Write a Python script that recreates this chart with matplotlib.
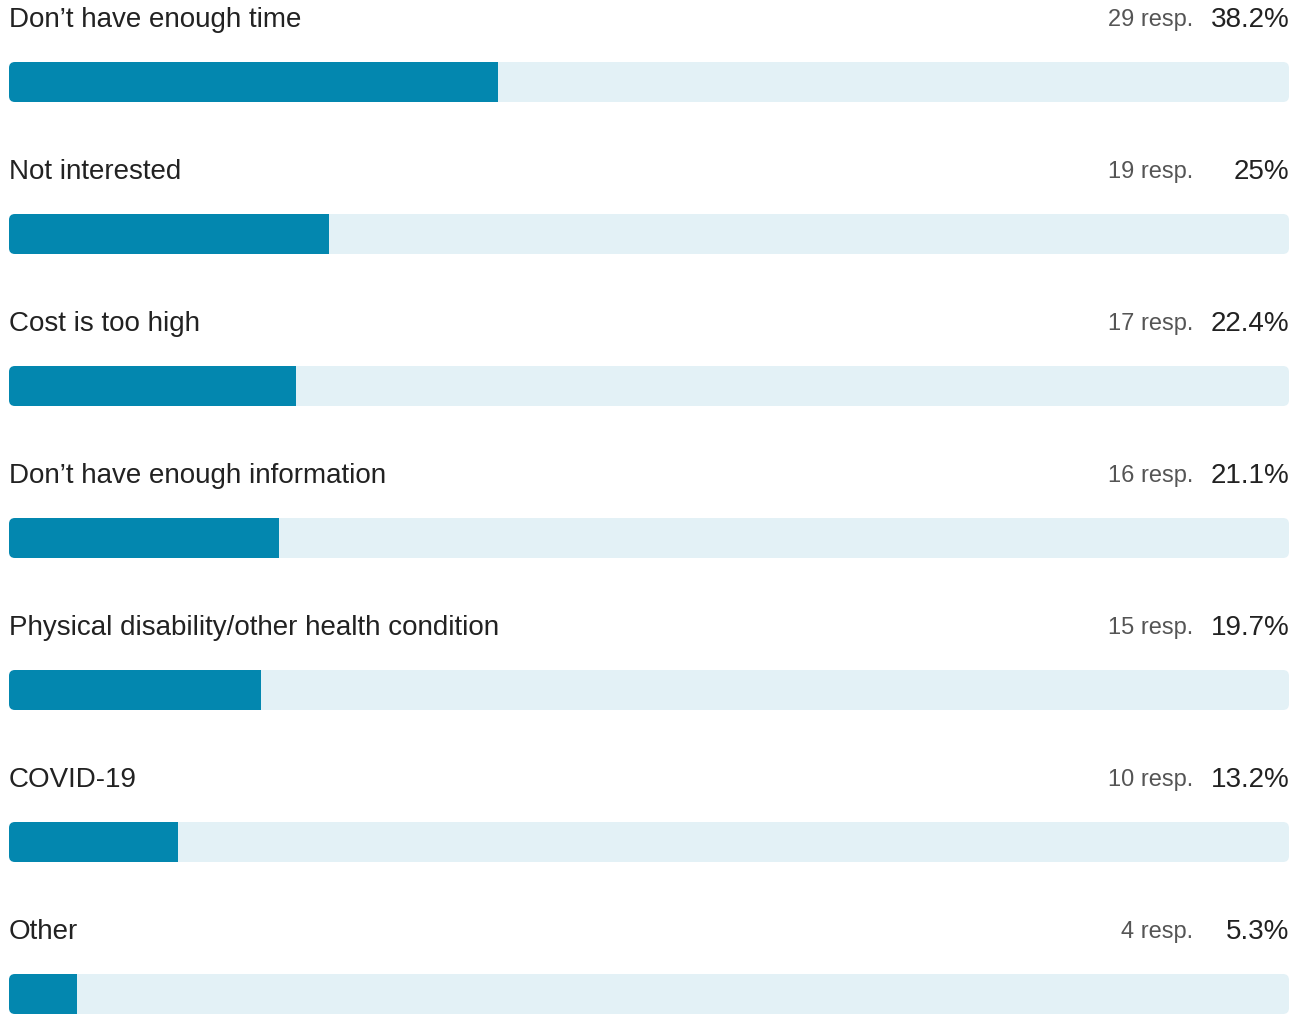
import matplotlib
matplotlib.use("Agg")
import matplotlib.pyplot as plt
from matplotlib.patches import FancyBboxPatch

plt.rcParams['font.family'] = ['Liberation Sans', 'DejaVu Sans']

## survey answers
labels = ["Don\u2019t have enough time", "Not interested", "Cost is too high",
          "Don\u2019t have enough information",
          "Physical disability/other health condition", "COVID-19", "Other"]
responses = [29, 19, 17, 16, 15, 10, 4]
percents = [38.2, 25, 22.4, 21.1, 19.7, 13.2, 5.3]
pct_text = ["38.2%", "25%", "22.4%", "21.1%", "19.7%", "13.2%", "5.3%"]

W, H = 1304, 1015
fig = plt.figure(figsize=(W / 100, H / 100), dpi=100)
# x in percent, y in pixels from top
ax = fig.add_axes([9 / W, 0, 1280 / W, 1])
ax.set_xlim(0, 100)
ax.set_ylim(H, 0)
ax.axis("off")

px = 1280 / 100  # pixels per x unit
bar_h = 40
first_top = 62
step = 152

for i, (lab, n, p, pt) in enumerate(zip(labels, responses, percents, pct_text)):
    top = first_top + i * step
    track = FancyBboxPatch((0, top), 100, bar_h,
                           boxstyle="round,pad=0,rounding_size=%f" % (6 / px),
                           mutation_aspect=px, fc="#e3f1f6", ec="none")
    ax.add_patch(track)
    bars = ax.barh(top + bar_h / 2, p, height=bar_h, left=0, color="#0387af")
    for b in bars:
        b.set_clip_path(track)
    ytxt = top - 42
    ax.text(0, ytxt, lab, fontsize=20, color="#222222", va="center", ha="left")
    ax.text(92.5, ytxt, "%d resp." % n, fontsize=17, color="#555555",
            va="center", ha="right")
    ax.text(100.05, ytxt, pt, fontsize=20, color="#222222", va="center", ha="right")

fig.savefig("out.png", dpi=100)
